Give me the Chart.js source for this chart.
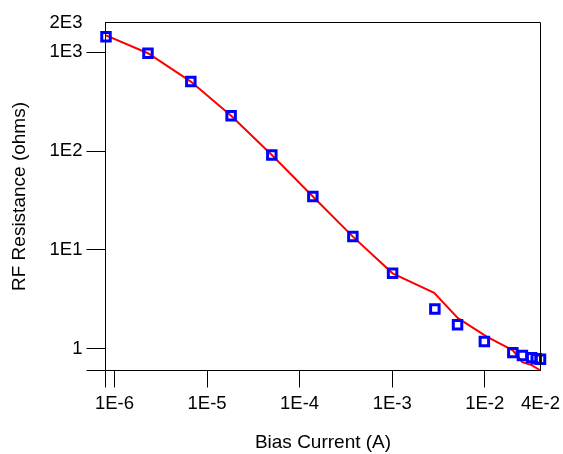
<!DOCTYPE html>
<html><head><meta charset="utf-8">
<script src="https://cdn.jsdelivr.net/npm/chart.js@4/dist/chart.umd.min.js"></script>
<style>html,body{margin:0;padding:0;background:#fff;}#wrap{width:563px;height:454px;}</style>
</head><body><div id="wrap"><canvas id="c" width="563" height="454"></canvas></div>
<script>
// Measured data (blue squares)
const biasCurrent = [8.1e-7, 2.30e-6, 6.68e-6, 1.82e-5, 5.01e-5, 1.39e-4, 3.76e-4, 1.01e-3, 2.89e-3, 5.08e-3, 9.9e-3, 2.01e-2, 2.55e-2, 3.21e-2, 3.6e-2, 4.0e-2];
const measuredR   = [1438, 977, 505, 228, 91, 34.7, 13.6, 5.78, 2.52, 1.74, 1.18, 0.91, 0.85, 0.81, 0.79, 0.78];
// Model curve (red line)
const modelI = [8.1e-7, 2.30e-6, 6.68e-6, 1.82e-5, 5.01e-5, 1.39e-4, 3.76e-4, 1.01e-3, 2.84e-3, 5.13e-3, 1.05e-2, 2.01e-2, 2.55e-2, 3.21e-2, 4.0e-2];
const modelR = [1480, 977, 505, 228, 91, 34.7, 13.6, 5.78, 3.66, 2.03, 1.32, 0.96, 0.73, 0.68, 0.6];
// Tick labels
const xTickValues = [1e-6, 1e-5, 1e-4, 1e-3, 1e-2, 4e-2];
const xTickLabels = ['1E-6', '1E-5', '1E-4', '1E-3', '1E-2', '4E-2'];
const yTickValues = [1, 10, 100, 1000, 2000];
const yTickLabels = ['1', '1E1', '1E2', '1E3', '2E3'];
const xTitle = 'Bias Current (A)';
const yTitle = 'RF Resistance (ohms)';

const FONT = "'Liberation Sans', Arial, sans-serif";
Chart.defaults.font.family = FONT;
Chart.defaults.color = '#000';

const framePlugin = {
  id: 'frame',
  afterDraw(chart) {
    const {ctx, chartArea: a} = chart;
    ctx.save();
    ctx.strokeStyle = '#000';
    ctx.lineWidth = 1;
    ctx.beginPath();
    ctx.moveTo(a.left, a.top); ctx.lineTo(a.right, a.top); ctx.lineTo(a.right, a.bottom);
    ctx.moveTo(a.left - 19, a.bottom); ctx.lineTo(a.left, a.bottom);
    ctx.moveTo(a.left, a.bottom); ctx.lineTo(a.left, a.bottom + 17);
    ctx.stroke();
    ctx.restore();
  }
};

new Chart(document.getElementById('c'), {
  type: 'scatter',
  data: {
    datasets: [
      {
        label: 'measured',
        data: biasCurrent.map((x, i) => ({x, y: measuredR[i]})),
        showLine: false,
        pointStyle: 'rect',
        pointRadius: 6,
        borderWidth: 3,
        borderColor: '#0000ff',
        backgroundColor: 'rgba(0,0,0,0)',
        clip: false,
        order: 0
      },
      {
        label: 'model',
        data: modelI.map((x, i) => ({x, y: modelR[i]})),
        showLine: true,
        pointRadius: 0,
        borderWidth: 2,
        borderColor: '#ff0000',
        backgroundColor: '#ff0000',
        tension: 0,
        order: 1
      }
    ]
  },
  options: {
    responsive: false,
    animation: false,
    devicePixelRatio: 1,
    layout: {padding: {left: 0, top: 22.5, right: 22.5, bottom: 0}},
    plugins: {legend: {display: false}, tooltip: {enabled: false}},
    scales: {
      x: {
        type: 'logarithmic',
        min: 8e-7,
        max: 4e-2,
        afterFit: s => { s.height = 83.5; s.paddingLeft = 0; s.paddingRight = 0; },
        afterBuildTicks: s => { s.ticks = xTickValues.map(v => ({value: v})); },
        ticks: {
          autoSkip: false, maxRotation: 0, minRotation: 0, padding: 5,
          font: {size: 18.5, family: FONT}, color: '#000',
          callback: (v) => { const i = xTickValues.indexOf(v); return i >= 0 ? xTickLabels[i] : ''; }
        },
        grid: {
          drawOnChartArea: false, drawTicks: true, tickLength: 17, tickWidth: 1,
          tickColor: c => (c.tick && c.tick.value === 4e-2) ? 'rgba(0,0,0,0)' : '#000'
        },
        border: {display: true, color: '#000', width: 1},
        title: {display: true, text: xTitle, font: {size: 19, family: FONT}, color: '#000', padding: {top: 0, bottom: 0}}
      },
      y: {
        type: 'logarithmic',
        min: 0.6,
        max: 2000,
        afterFit: s => { s.width = 105.5; s.paddingTop = 0; s.paddingBottom = 0; },
        afterBuildTicks: s => { s.ticks = yTickValues.map(v => ({value: v})); },
        ticks: {
          autoSkip: false, padding: 4,
          font: {size: 18.5, family: FONT}, color: '#000',
          callback: (v) => { const i = yTickValues.indexOf(v); return i >= 0 ? yTickLabels[i] : ''; }
        },
        grid: {
          drawOnChartArea: false, drawTicks: true, tickLength: 19, tickWidth: 1,
          tickColor: c => (c.tick && c.tick.value === 2000) ? 'rgba(0,0,0,0)' : '#000'
        },
        border: {display: true, color: '#000', width: 1},
        title: {display: true, text: yTitle, font: {size: 19, family: FONT}, color: '#000', padding: {top: 8, bottom: 0}}
      }
    }
  },
  plugins: [framePlugin]
});
</script>
</body></html>
